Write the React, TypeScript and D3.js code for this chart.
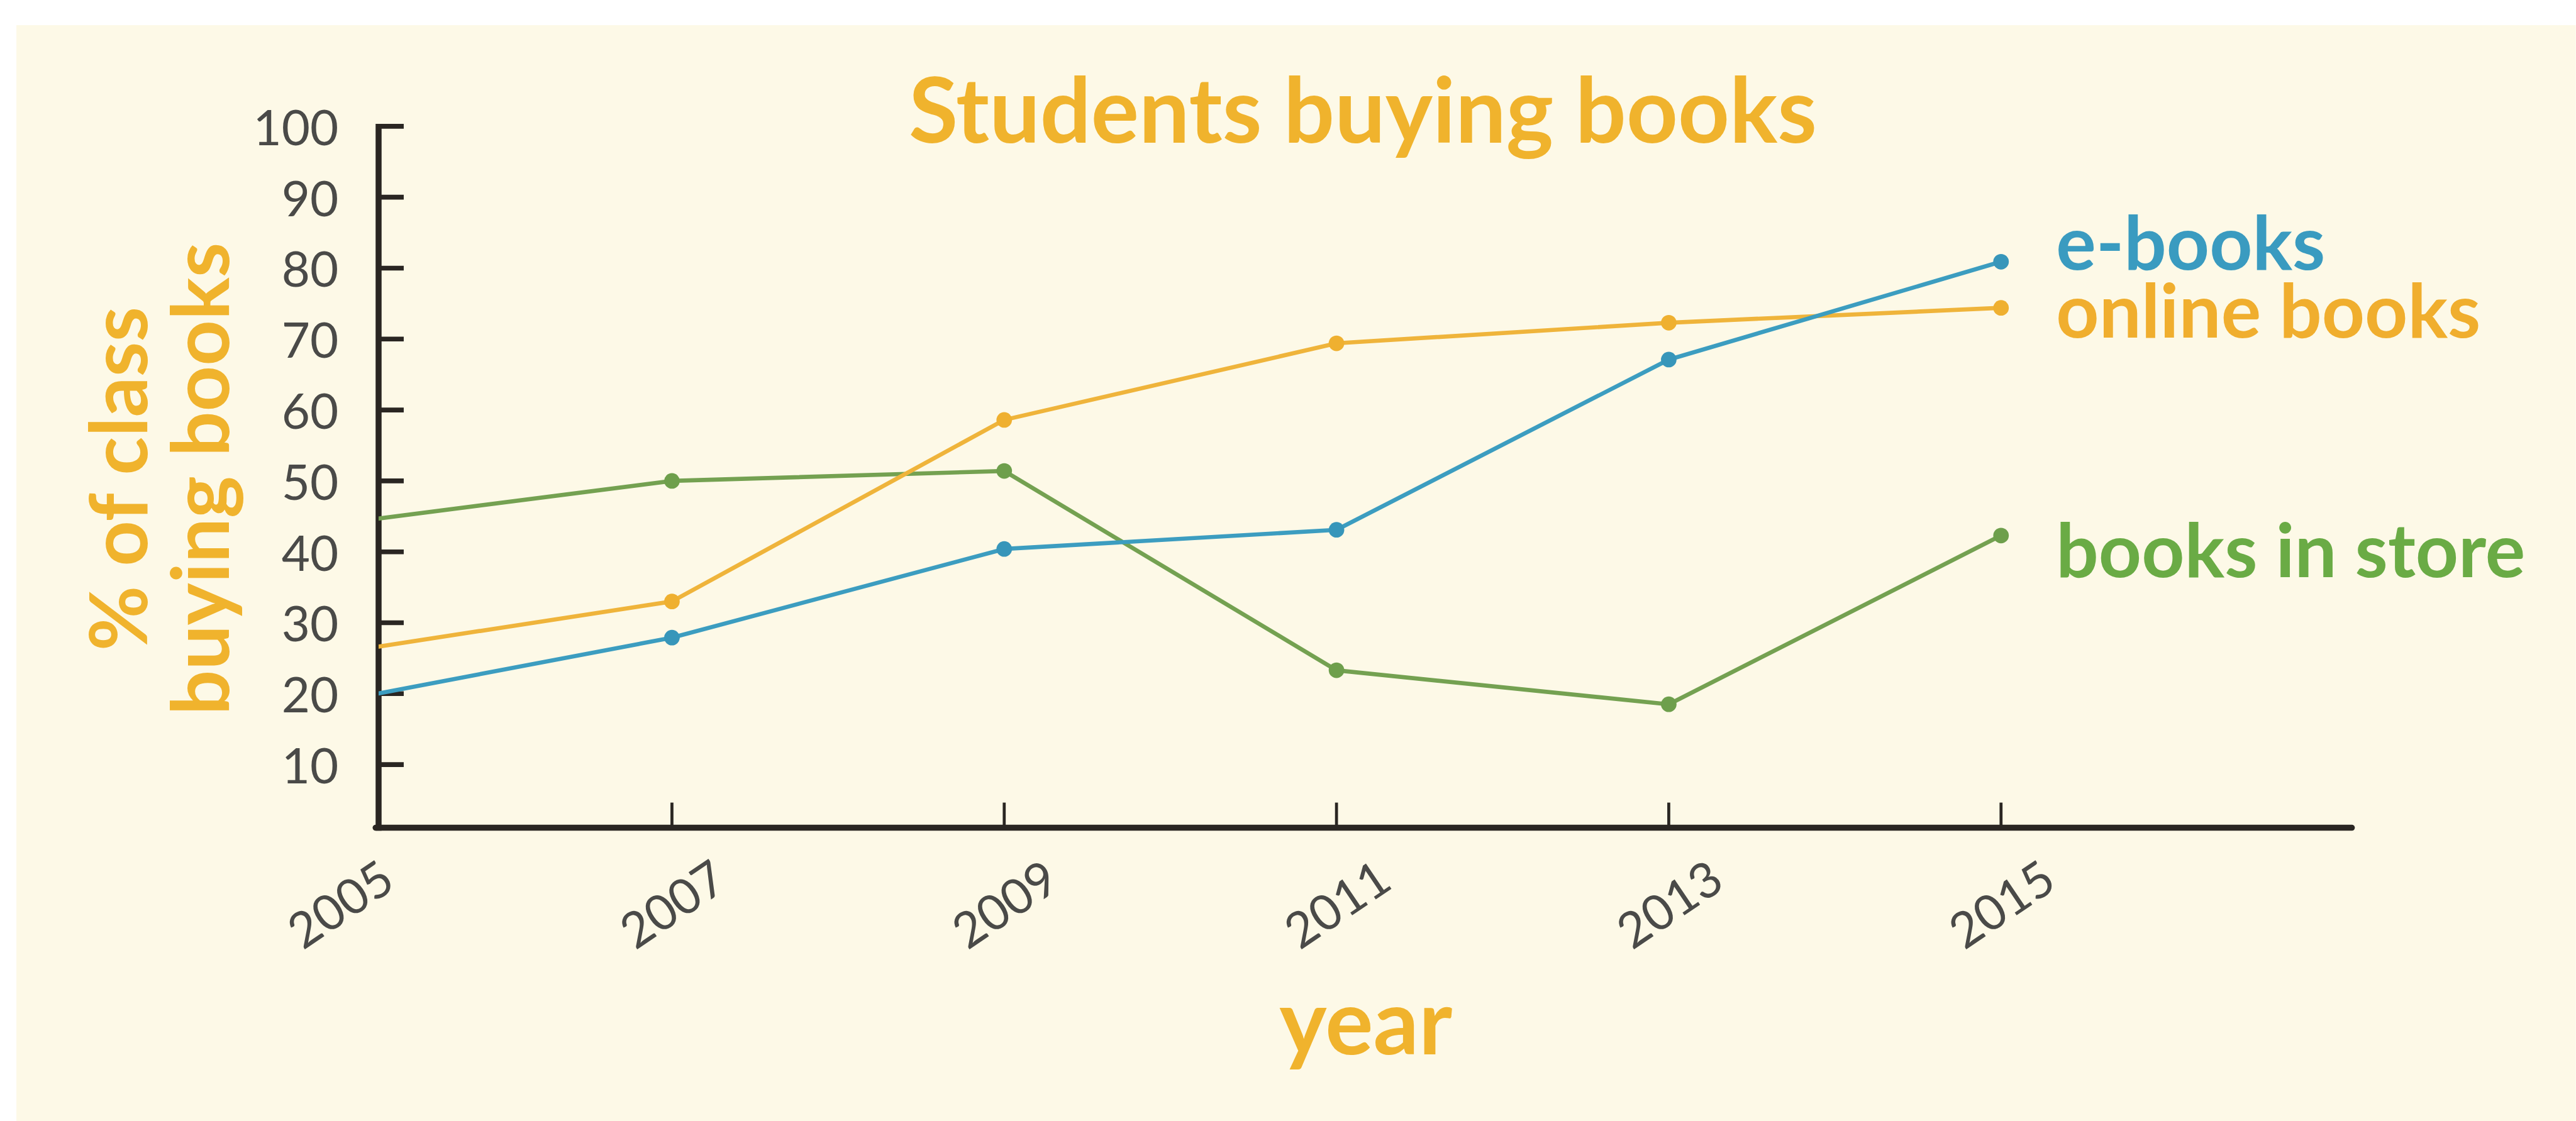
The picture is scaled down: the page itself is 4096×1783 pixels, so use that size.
import React, { useEffect } from 'react';
import * as d3 from 'd3';

// ---- data ----
const years = [2005, 2007, 2009, 2011, 2013, 2015];
const eBooks = [19, 27.9, 40.4, 43.1, 67.1, 80.9];
const onlineBooks = [25.8, 33, 58.6, 69.4, 72.3, 74.4];
const booksInStore = [44, 50, 51.4, 23.3, 18.5, 42.3];
const yTicks = [10, 20, 30, 40, 50, 60, 70, 80, 90, 100];
const seriesNames = ['books in store', 'online books', 'e-books'];
const titleText = 'Students buying books';
const yLabelLines = ['% of class', 'buying books'];
const xLabelText = 'year';

// ---- layout (reference pixel space, scaled by viewBox) ----
const W = 4302;
const H = 1873;
const axisX = 632;
const baseY = 1383;
const axisRight = 3928;
const FONT = 'Lato, "Open Sans", sans-serif';
const GOLD = '#f0b32d';
const AXIS = '#2a2622';

const seriesStyles = [
  { line: '#74a151', dot: '#6e9f4c', text: '#6aab45', labelDy: 70 },
  { line: '#efb43b', dot: '#efb030', text: '#f0ae2e', labelDy: 50 },
  { line: '#3c9dc0', dot: '#3796ba', text: '#3a9bc0', labelDy: 13 },
];
const seriesValues = [booksInStore, onlineBooks, eBooks];

const x = d3.scaleLinear().domain([2005, 2015]).range([567, 3342]);
const y = d3.scaleLinear().domain([0, 100]).range([1396, 211]);

export default function App() {
  useEffect(() => {
    document.body.style.margin = '0';
  }, []);

  const line = d3
    .line<number>()
    .x((_, i) => x(years[i]))
    .y((d) => y(d));

  return (
    <svg
      width={4096}
      height={1783}
      viewBox={`0 0 ${W} ${H}`}
      style={{ position: 'absolute', left: 0, top: 0, display: 'block' }}
    >
      <defs>
        <clipPath id="plotClip">
          <rect x={axisX} y={0} width={W - axisX} height={baseY} />
        </clipPath>
      </defs>
      <rect x={0} y={0} width={W} height={H} fill="#ffffff" />
      <rect x={27} y={42} width={W - 27} height={H - 42} fill="#fdf9e7" />

      {/* title */}
      <text
        x={2276}
        y={238}
        textAnchor="middle"
        fontFamily={FONT}
        fontWeight={700}
        fontSize={150}
        fill={GOLD}
      >
        {titleText}
      </text>

      {/* y label */}
      <g transform="translate(0,800) rotate(-90)">
        {yLabelLines.map((t, i) => (
          <text
            key={t}
            x={0}
            y={245 + i * 137}
            textAnchor="middle"
            fontFamily={FONT}
            fontWeight={700}
            fontSize={133}
            fill={GOLD}
          >
            {t}
          </text>
        ))}
      </g>

      {/* x label */}
      <text
        x={2281}
        y={1762}
        textAnchor="middle"
        fontFamily={FONT}
        fontWeight={700}
        fontSize={150}
        fill={GOLD}
      >
        {xLabelText}
      </text>

      {/* y axis ticks and labels */}
      {yTicks.map((t) => (
        <g key={t}>
          <line
            x1={axisX}
            x2={axisX + 42}
            y1={y(t)}
            y2={y(t)}
            stroke={AXIS}
            strokeWidth={8}
          />
          <text
            x={565}
            y={y(t)}
            dominantBaseline="central"
            textAnchor="end"
            fontFamily={FONT}
            fontSize={82}
            fill="#4a4a48"
          >
            {t}
          </text>
        </g>
      ))}

      {/* x axis ticks and labels */}
      {years.map((yr, i) => (
        <g key={yr}>
          {i > 0 && (
            <line
              x1={x(yr)}
              x2={x(yr)}
              y1={baseY}
              y2={baseY - 42}
              stroke={AXIS}
              strokeWidth={5}
            />
          )}
          <text
            transform={`translate(${x(yr)},${baseY + 126}) rotate(-34)`}
            textAnchor="middle"
            dominantBaseline="central"
            fontFamily={FONT}
            fontSize={82}
            fill="#4a4a48"
          >
            {yr}
          </text>
        </g>
      ))}

      {/* axes lines */}
      <line x1={axisX} x2={axisX} y1={y(100) - 4} y2={baseY + 5} stroke={AXIS} strokeWidth={10} />
      <line x1={axisX - 5} x2={axisRight} y1={baseY} y2={baseY} stroke={AXIS} strokeWidth={10} strokeLinecap="round" />

      {/* series */}
      <g clipPath="url(#plotClip)">
        {seriesValues.map((vals, si) => (
          <g key={seriesNames[si]}>
            <path
              d={line(vals) || ''}
              fill="none"
              stroke={seriesStyles[si].line}
              strokeWidth={7}
              strokeLinejoin="round"
            />
            {vals.map((v, i) =>
              i > 0 ? (
                <circle key={i} cx={x(years[i])} cy={y(v)} r={13} fill={seriesStyles[si].dot} />
              ) : null
            )}
          </g>
        ))}
      </g>

      {/* end labels */}
      {seriesValues.map((vals, si) => (
        <text
          key={seriesNames[si]}
          x={x(years[years.length - 1]) + 92}
          y={y(vals[vals.length - 1]) + seriesStyles[si].labelDy}
          fontFamily={FONT}
          fontWeight={700}
          fontSize={125}
          fill={seriesStyles[si].text}
        >
          {seriesNames[si]}
        </text>
      ))}
    </svg>
  );
}
